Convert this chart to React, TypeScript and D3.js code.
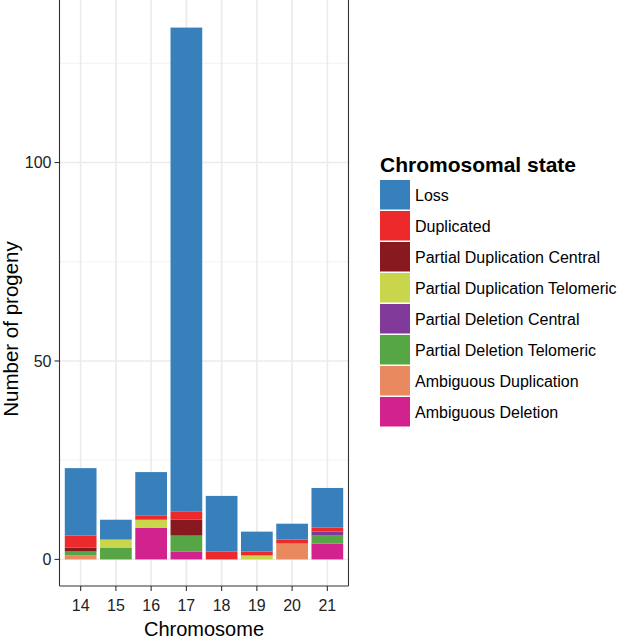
import React from "react";
import * as d3 from "d3";

const chromosomes = ["14", "15", "16", "17", "18", "19", "20", "21"];
const states = [
  "Loss",
  "Duplicated",
  "Partial Duplication Central",
  "Partial Duplication Telomeric",
  "Partial Deletion Central",
  "Partial Deletion Telomeric",
  "Ambiguous Duplication",
  "Ambiguous Deletion",
];
const stateColors = [
  "#3780bb",
  "#ec2a2c",
  "#88191f",
  "#c9d64c",
  "#81399a",
  "#56a646",
  "#e8895f",
  "#d2228e",
];
// counts per chromosome, in order of `states`
const loss = [17, 5, 11, 122, 14, 5, 4, 10];
const duplicated = [3, 0, 1, 2, 2, 1, 1, 1];
const partialDupCentral = [1, 0, 0, 4, 0, 0, 0, 0];
const partialDupTelomeric = [0, 2, 2, 0, 0, 1, 0, 0];
const partialDelCentral = [0, 0, 0, 0, 0, 0, 0, 1];
const partialDelTelomeric = [1, 3, 0, 4, 0, 0, 0, 2];
const ambiguousDup = [1, 0, 0, 0, 0, 0, 4, 0];
const ambiguousDel = [0, 0, 8, 2, 0, 0, 0, 4];
const yTicks = [0, 50, 100];
const yMinor = [25, 75, 125];

const seriesValues = [
  loss,
  duplicated,
  partialDupCentral,
  partialDupTelomeric,
  partialDelCentral,
  partialDelTelomeric,
  ambiguousDup,
  ambiguousDel,
];

const FONT = "'Liberation Sans', Arial, Helvetica, sans-serif";

export default function App() {
  const W = 620;
  const H = 639;
  const left = 59.5;
  const right = 348.5;
  const top = 1;
  const bottom = 586;

  const x = d3
    .scaleBand<string>()
    .domain(chromosomes)
    .range([left, right])
    .paddingInner(0.1)
    .paddingOuter(0.15);
  const y = d3.scaleLinear().domain([-6.7, 140.7]).range([bottom, top]);

  const rows = chromosomes.map((c, i) => {
    const r: Record<string, any> = { chrom: c };
    states.forEach((s, j) => (r[s] = seriesValues[j][i]));
    return r;
  });
  // ggplot stacks the last legend item at the bottom
  const stackKeys = [...states].reverse();
  const stacked = d3.stack<any>().keys(stackKeys)(rows);
  const colorOf = d3.scaleOrdinal<string, string>().domain(states).range(stateColors);

  const legX = 380;
  const legY0 = 180;
  const pitch = 31;

  return (
    <svg width={W} height={H} style={{ position: "absolute", left: 0, top: 0 }} fontFamily={FONT}>
      <rect x={0} y={0} width={W} height={H} fill="#fff" />
      {/* grid */}
      {yMinor.map((v) => (
        <line key={"mn" + v} x1={left} x2={right} y1={y(v)} y2={y(v)} stroke="#f0f0f0" strokeWidth={0.8} />
      ))}
      {yTicks.map((v) => (
        <line key={"mj" + v} x1={left} x2={right} y1={y(v)} y2={y(v)} stroke="#ebebeb" strokeWidth={1.4} />
      ))}
      {chromosomes.map((c) => {
        const cx = (x(c) as number) + x.bandwidth() / 2;
        return <line key={"vg" + c} x1={cx} x2={cx} y1={top - 1} y2={bottom} stroke="#ebebeb" strokeWidth={1.6} />;
      })}
      {/* bars */}
      {stacked.map((layer) => (
        <g key={layer.key} fill={colorOf(layer.key)}>
          {layer.map((d, i) =>
            d[1] - d[0] > 0 ? (
              <rect
                key={i}
                x={x(chromosomes[i])}
                width={x.bandwidth()}
                y={y(d[1])}
                height={y(d[0]) - y(d[1])}
              />
            ) : null
          )}
        </g>
      ))}
      {/* panel border */}
      <line x1={left} x2={left} y1={top - 2} y2={bottom} stroke="#333" strokeWidth={1.1} />
      <line x1={right} x2={right} y1={top - 2} y2={bottom} stroke="#333" strokeWidth={1.1} />
      <line x1={left} x2={right} y1={bottom} y2={bottom} stroke="#333" strokeWidth={1.1} />
      {/* y axis */}
      {yTicks.map((v) => (
        <g key={"yt" + v}>
          <line x1={left - 5} x2={left} y1={y(v)} y2={y(v)} stroke="#333" strokeWidth={1.1} />
          <text x={left - 8} y={y(v)} dy="0.35em" textAnchor="end" fontSize={16} fill="#222">
            {v}
          </text>
        </g>
      ))}
      {/* x axis */}
      {chromosomes.map((c) => {
        const cx = (x(c) as number) + x.bandwidth() / 2;
        return (
          <g key={"xt" + c}>
            <line x1={cx} x2={cx} y1={bottom} y2={bottom + 5} stroke="#333" strokeWidth={1.1} />
            <text x={cx} y={610.5} textAnchor="middle" fontSize={16} fill="#222">
              {c}
            </text>
          </g>
        );
      })}
      <text x={(left + right) / 2} y={636} textAnchor="middle" fontSize={20} fill="#000">
        Chromosome
      </text>
      <text
        transform={`translate(18, 329) rotate(-90)`}
        textAnchor="middle"
        fontSize={20.5}
        fill="#000"
      >
        Number of progeny
      </text>
      {/* legend */}
      <text x={legX} y={172} fontSize={21} fontWeight="bold" fill="#000">
        Chromosomal state
      </text>
      {states.map((s, i) => (
        <g key={"lg" + s}>
          <rect x={legX} y={legY0 + i * pitch} width={30} height={29.5} fill={colorOf(s)} />
          <text x={legX + 35} y={legY0 + i * pitch + 15} dy="0.35em" fontSize={16} fill="#000">
            {s}
          </text>
        </g>
      ))}
    </svg>
  );
}
